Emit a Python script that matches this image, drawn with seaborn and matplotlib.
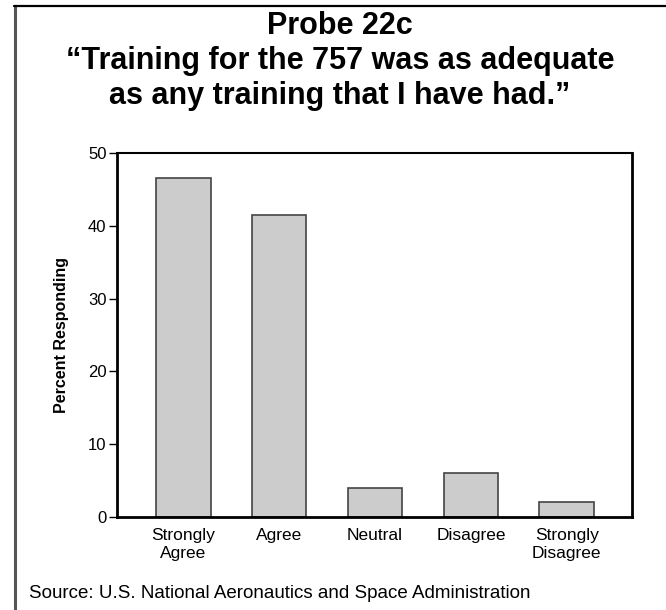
import matplotlib
matplotlib.use("Agg")
import matplotlib.pyplot as plt
import seaborn as sns
import pandas as pd
from matplotlib.lines import Line2D

categories = ["Strongly\nAgree", "Agree", "Neutral", "Disagree", "Strongly\nDisagree"]
percent = [46.5, 41.5, 4.0, 6.0, 2.0]
yticks = [0, 10, 20, 30, 40, 50]

title = "Probe 22c\n\u201cTraining for the 757 was as adequate\nas any training that I have had.\u201d"
ylabel = "Percent Responding"
source = "Source: U.S. National Aeronautics and Space Administration"

sns.set_theme(style="white")
plt.rcParams['font.family'] = ['Liberation Sans', 'DejaVu Sans']
plt.rcParams['text.color'] = 'black'
plt.rcParams['axes.labelcolor'] = 'black'
plt.rcParams['xtick.color'] = 'black'
plt.rcParams['ytick.color'] = 'black'

df = pd.DataFrame({"cat": categories, "pct": percent})

W, H = 666, 610
fig = plt.figure(figsize=(W / 100, H / 100), dpi=100)
ax = fig.add_axes([117 / W, 1 - 517 / H, (632 - 117) / W, (517 - 153) / H])

sns.barplot(data=df, x="cat", y="pct", color="#cccccc", edgecolor="#444444",
            linewidth=1.2, width=0.57, saturation=1, ax=ax)
for p in ax.patches:
    p.set_facecolor("#cccccc")

ax.set_xlim(-0.69, 4.68)
ax.set_ylim(0, 50)
ax.set_yticks(yticks)
ax.set_yticklabels([str(v) for v in yticks], fontsize=12)
ax.tick_params(axis="y", which="major", direction="out", length=6, width=1,
               color="black", pad=1.5, left=True)
ax.tick_params(axis="x", length=0, pad=8, labelsize=12.5)
ax.set_xlabel("")
ax.set_ylabel(ylabel, fontsize=11.5, fontweight="bold", labelpad=14)
for s in ["left", "bottom", "right"]:
    ax.spines[s].set_linewidth(2)
    ax.spines[s].set_color("black")
ax.spines["top"].set_linewidth(1.5)
ax.spines["top"].set_color("black")
ax.spines["left"].set_zorder(5)

fig.text(340 / W, 1 - 61 / H, title, ha="center", va="center", fontsize=22,
         fontweight="bold", linespacing=1.2)
fig.text(29 / W, 1 - 594 / H, source, ha="left", va="center", fontsize=13.5)

# outer frame (left and top visible)
fig.add_artist(Line2D([14.7 / W, 14.7 / W], [0, 1 - 6 / H], transform=fig.transFigure,
                      color="#555555", linewidth=2.2))
fig.add_artist(Line2D([14 / W, 1], [1 - 6 / H, 1 - 6 / H], transform=fig.transFigure,
                      color="black", linewidth=1.6))

fig.savefig("out.png", dpi=100)
